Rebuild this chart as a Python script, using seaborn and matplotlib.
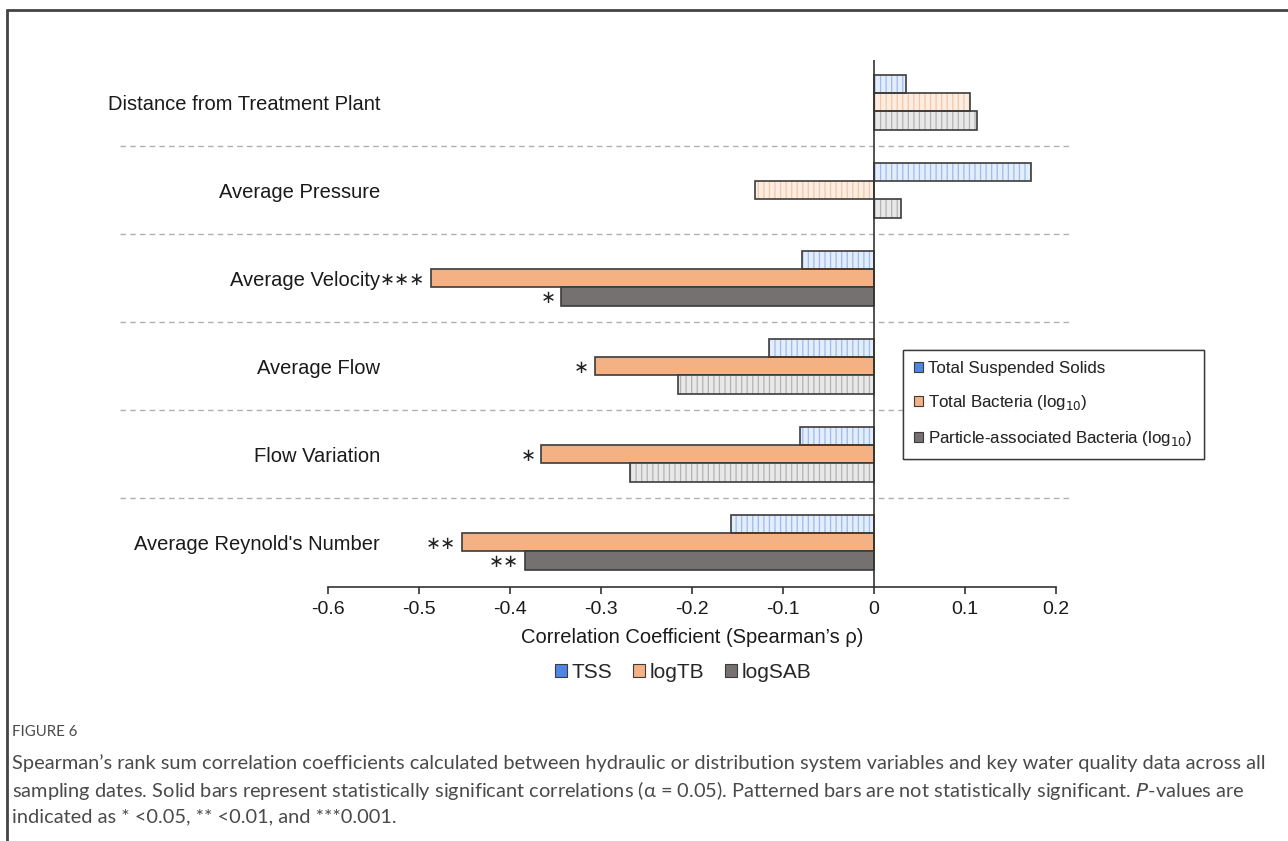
import pandas as pd
import numpy as np
import matplotlib
matplotlib.use("Agg")
import matplotlib.pyplot as plt
from matplotlib.patches import Patch, Rectangle
from matplotlib.lines import Line2D
import seaborn as sns

# data
variables = ["Distance from Treatment Plant", "Average Pressure", "Average Velocity",
             "Average Flow", "Flow Variation", "Average Reynold's Number"]
tss = [0.035, 0.173, -0.079, -0.115, -0.081, -0.157]
log_tb = [0.106, -0.131, -0.487, -0.307, -0.366, -0.453]
log_sab = [0.113, 0.030, -0.344, -0.215, -0.268, -0.384]

# significance stars ('' = not significant, patterned bar)
stars_tss = ["", "", "", "", "", ""]
stars_tb = ["", "", "***", "*", "*", "**"]
stars_sab = ["", "", "*", "", "", "**"]

measures = ["TSS", "logTB", "logSAB"]
legend_long = ["Total Suspended Solids", "Total Bacteria (log$_{10}$)",
               "Particle-associated Bacteria (log$_{10}$)"]
x_ticks = [-0.6, -0.5, -0.4, -0.3, -0.2, -0.1, 0, 0.1, 0.2]
x_tick_labels = ["-0.6", "-0.5", "-0.4", "-0.3", "-0.2", "-0.1", "0", "0.1", "0.2"]

solid = {"TSS": "#4F86E4", "logTB": "#F4B183", "logSAB": "#767171"}
light = {"TSS": "#E4EDFA", "logTB": "#FCEDE2", "logSAB": "#E8E8E8"}
hatch_col = {"TSS": "#9DBBF0", "logTB": "#F5C7A6", "logSAB": "#B3B3B3"}
edge = "#3C3C3C"

df = pd.DataFrame({
    "variable": variables * 3,
    "measure": np.repeat(measures, len(variables)),
    "value": tss + log_tb + log_sab,
})
star_map = {"TSS": stars_tss, "logTB": stars_tb, "logSAB": stars_sab}

sns.set_style("white")
plt.rcParams["font.family"] = ["Liberation Sans", "DejaVu Sans"]
plt.rcParams["axes.unicode_minus"] = False
plt.rcParams["hatch.linewidth"] = 0.9

fig = plt.figure(figsize=(12.88, 8.41), dpi=100)
ax = fig.add_axes([0.2547, 0.302, 0.5652, 0.6266])

sns.barplot(data=df, y="variable", x="value", hue="measure", orient="h",
            palette=solid, saturation=1, width=0.625, edgecolor=edge, linewidth=1.2,
            legend=False, ax=ax)

# patterned bars for non-significant, stars for significant
for m, cont in zip(measures, ax.containers):
    for i, p in enumerate(cont.patches):
        st = star_map[m][i]
        if st == "":
            p.set_facecolor(light[m])
            p.set_edgecolor(hatch_col[m])
            p.set_linewidth(0)
            p.set_hatch("|||")
            ax.add_patch(Rectangle(p.get_xy(), p.get_width(), p.get_height(),
                                   fill=False, ec=edge, lw=1.2, zorder=3))
        else:
            x_end = min(p.get_x(), p.get_x() + p.get_width())
            yc = p.get_y() + p.get_height() / 2
            ax.annotate(st.replace("*", "\u2217"), (x_end, yc), xytext=(-4, -1),
                        textcoords="offset points", ha="right", va="center",
                        fontsize=13, family="DejaVu Sans", color="#222222")

ax.set_xlim(-0.6, 0.2)
ax.set_ylim(5.51, -0.48)
ax.axvline(0, color="#333333", lw=1.2, zorder=4)

# dashed separators between variables
for k in range(len(variables) - 1):
    ax.plot([-0.286, 1.019], [k + 0.5, k + 0.5], transform=ax.get_yaxis_transform(),
            ls=(0, (4, 3)), color="#B0B0B0", lw=1, clip_on=False)

for s in ["top", "right", "left"]:
    ax.spines[s].set_visible(False)
ax.spines["bottom"].set_color("#333333")
ax.spines["bottom"].set_linewidth(1.2)
ax.set_xticks(x_ticks)
ax.set_xticklabels(x_tick_labels)
ax.tick_params(axis="x", direction="out", length=5, width=1.2, color="#333333",
               labelsize=14, pad=5, bottom=True)
ax.tick_params(axis="y", length=0, pad=-37.5, labelsize=14.5)
for t in ax.get_yticklabels() + ax.get_xticklabels():
    t.set_color("#1a1a1a")
ax.set_ylabel("")
ax.set_xlabel("Correlation Coefficient (Spearman\u2019s \u03c1)", fontsize=14.5,
              labelpad=7, color="#1a1a1a")

# inner legend
h_long = [Patch(facecolor=solid[m], edgecolor=edge, lw=0.8) for m in measures]
leg1 = ax.legend(h_long, legend_long, loc="upper left",
                 bbox_to_anchor=(903 / 1288, 1 - 350 / 841),
                 bbox_transform=fig.transFigure, fontsize=12.2, frameon=True,
                 fancybox=False, edgecolor="#222222", handlelength=0.55,
                 handleheight=0.55, handletextpad=0.3, labelspacing=1.0,
                 borderpad=0.65, borderaxespad=0)
leg1.get_frame().set_linewidth(1.0)
ax.add_artist(leg1)

# bottom legend
h_short = [Patch(facecolor=solid[m], edgecolor=edge, lw=0.8) for m in measures]
fig.legend(h_short, measures, loc="center", bbox_to_anchor=(683 / 1288, 1 - 672 / 841),
           ncol=3, fontsize=15, frameon=False, handlelength=0.6, handleheight=0.6,
           handletextpad=0.2, columnspacing=1.0)

# frame of the figure panel
fig.add_artist(Line2D([7 / 1288, 1], [1 - 10 / 841, 1 - 10 / 841], color="#444444", lw=2))
fig.add_artist(Line2D([7 / 1288, 7 / 1288], [0, 1 - 10 / 841], color="#444444", lw=2))

# caption
cap_col = "#4a4a4a"
fig.text(12 / 1288, 1 - 732 / 841, "FIGURE 6", fontsize=10.8, color=cap_col,
         family="Lato", va="center")
caption = ["Spearman\u2019s rank sum correlation coefficients calculated between hydraulic or distribution system variables and key water quality data across all",
           "sampling dates. Solid bars represent statistically significant correlations (\u03b1 = 0.05). Patterned bars are not statistically significant. $\\it{P}$-values are",
           "indicated as * <0.05, ** <0.01, and ***0.001."]
for j, line in enumerate(caption):
    fig.text(12 / 1288, 1 - (763 + 27 * j) / 841, line, fontsize=14.4, color=cap_col,
             family="Lato", va="center")

fig.savefig("out.png", dpi=100)
